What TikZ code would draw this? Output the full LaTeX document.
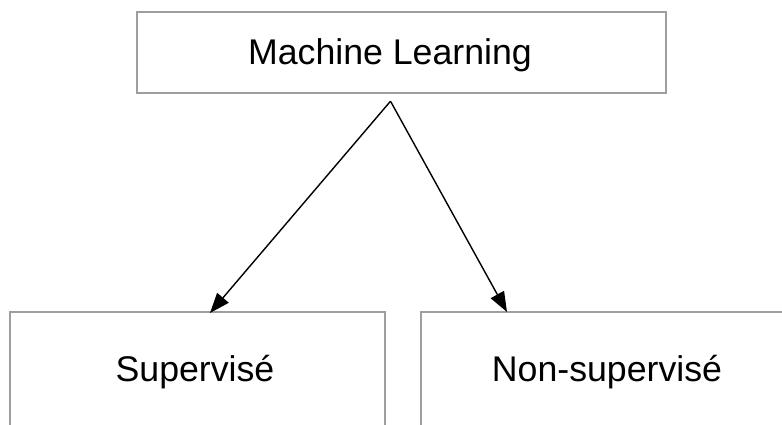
\documentclass[tikz,border=0pt]{standalone}
\usepackage{fontspec}
\setmainfont{Liberation Sans}
\usetikzlibrary{arrows.meta,calc}
\begin{document}
\begin{tikzpicture}[x=1pt,y=-1pt,
  box/.style={draw=black!38, line width=1.8pt, rectangle, inner sep=0pt},
  txt/.style={font=\fontsize{35.7}{40}\selectfont, text=black, inner sep=0pt, anchor=base},
  link/.style={draw=black, line width=1.4pt, -{Triangle[length=20pt,width=15pt]}}]
  \useasboundingbox (0,0) rectangle (782,425);
  \clip (0,0) rectangle (782,425);
  % root box
  \node (ml) [box, minimum width=529pt, minimum height=81pt] at (401.5,52.8)
    {};
  \node (mltext) [txt] at (390,65) {Machine Learning};
  % child boxes (running past the lower and right edges)
  \node (sup) [box, anchor=north west, minimum width=375pt, minimum height=200pt] at (9,311) {};
  \node (suptext) [txt] at (195,381) {Supervisé};
  \node (nsup) [box, anchor=north west, minimum width=480pt, minimum height=200pt] at (420,311) {};
  \node (nsuptext) [txt] at (607,381) {Non-supervisé};
  % connectors
  \coordinate (fork) at ($(ml.south)+(-11,7)$);
  \coordinate (supin) at ($(sup.north west)+(201,2)$);
  \coordinate (nsupin) at ($(nsup.north west)+(87,1)$);
  \draw[link] (fork) -- (supin);
  \draw[link] (fork) -- (nsupin);
\end{tikzpicture}
\end{document}
